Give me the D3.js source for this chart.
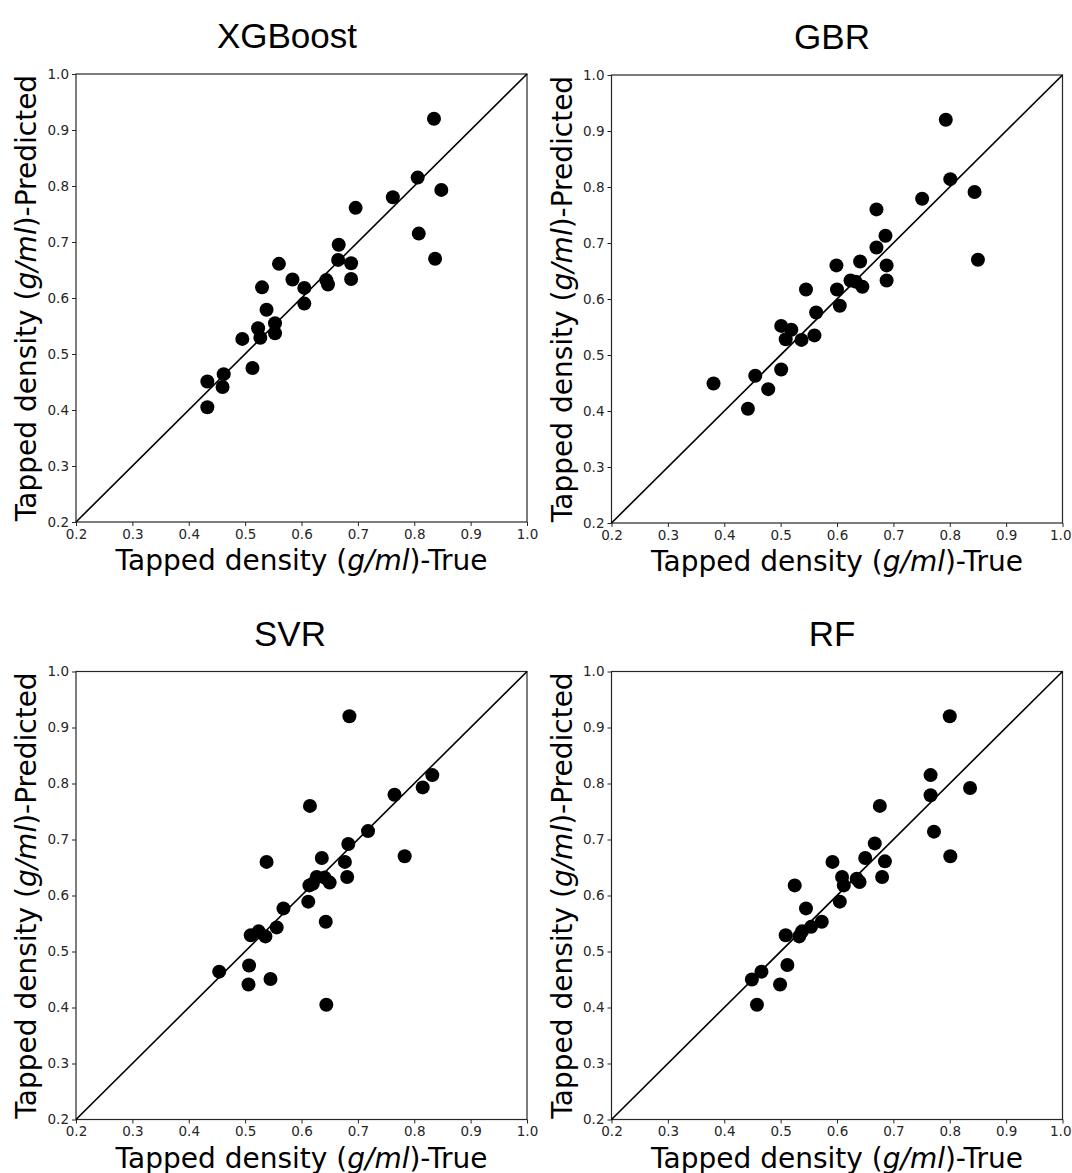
<!DOCTYPE html>
<html>
<head>
<meta charset="utf-8">
<script src="https://cdn.jsdelivr.net/npm/d3@7"></script>
<style>
  html, body { margin: 0; padding: 0; background: #fff; }
  svg { display: block; }
</style>
</head>
<body>
<svg id="chart" width="1072" height="1173"></svg>
<script>
// ---- Data ----
const modelNames = ["XGBoost", "GBR", "SVR", "RF"];
const tickValues = [0.2, 0.3, 0.4, 0.5, 0.6, 0.7, 0.8, 0.9, 1.0];
const axisDomain = [0.2, 1.0];

const xgbX = [0.835, 0.806, 0.848, 0.762, 0.696, 0.808, 0.837, 0.666, 0.665, 0.688, 0.688, 0.644, 0.647, 0.584, 0.605, 0.605, 0.560, 0.530, 0.538, 0.553, 0.553, 0.523, 0.527, 0.495, 0.513, 0.433, 0.462, 0.460, 0.433];
const xgbY = [0.920, 0.815, 0.793, 0.780, 0.761, 0.715, 0.670, 0.695, 0.668, 0.662, 0.634, 0.632, 0.624, 0.633, 0.618, 0.590, 0.661, 0.619, 0.579, 0.555, 0.537, 0.546, 0.529, 0.527, 0.475, 0.451, 0.464, 0.441, 0.405];

const gbrX = [0.793, 0.801, 0.844, 0.751, 0.670, 0.686, 0.670, 0.850, 0.641, 0.688, 0.688, 0.599, 0.624, 0.633, 0.645, 0.600, 0.605, 0.545, 0.563, 0.560, 0.537, 0.501, 0.519, 0.509, 0.501, 0.455, 0.478, 0.381, 0.442];
const gbrY = [0.920, 0.814, 0.791, 0.779, 0.760, 0.713, 0.692, 0.670, 0.667, 0.660, 0.633, 0.660, 0.633, 0.631, 0.622, 0.617, 0.588, 0.617, 0.576, 0.535, 0.527, 0.552, 0.545, 0.528, 0.474, 0.463, 0.439, 0.449, 0.404];

const svrX = [0.685, 0.832, 0.815, 0.765, 0.615, 0.718, 0.783, 0.683, 0.636, 0.677, 0.681, 0.627, 0.641, 0.650, 0.538, 0.614, 0.620, 0.612, 0.568, 0.643, 0.556, 0.524, 0.510, 0.536, 0.507, 0.454, 0.545, 0.506, 0.644];
const svrY = [0.920, 0.815, 0.793, 0.780, 0.760, 0.715, 0.670, 0.692, 0.667, 0.660, 0.633, 0.633, 0.632, 0.623, 0.660, 0.618, 0.621, 0.589, 0.577, 0.553, 0.543, 0.536, 0.529, 0.527, 0.475, 0.464, 0.451, 0.441, 0.405];

const rfX = [0.800, 0.766, 0.836, 0.766, 0.676, 0.772, 0.667, 0.801, 0.650, 0.685, 0.680, 0.592, 0.609, 0.635, 0.640, 0.612, 0.605, 0.525, 0.545, 0.573, 0.554, 0.538, 0.533, 0.509, 0.512, 0.466, 0.449, 0.499, 0.458];
const rfY = [0.920, 0.815, 0.792, 0.779, 0.760, 0.714, 0.693, 0.670, 0.667, 0.661, 0.633, 0.660, 0.633, 0.630, 0.624, 0.618, 0.589, 0.618, 0.577, 0.553, 0.544, 0.536, 0.527, 0.529, 0.476, 0.464, 0.450, 0.441, 0.405];

const seriesX = [xgbX, gbrX, svrX, rfX];
const seriesY = [xgbY, gbrY, svrY, rfY];

// ---- Layout ----
const panels = [
  { left: 76,    top: 74,    w: 451, h: 448, titleX: 287, edge: false },
  { left: 611.5, top: 75,    w: 451, h: 448, titleX: 832, edge: true },
  { left: 76,    top: 671.5, w: 451, h: 448, titleX: 290, edge: false },
  { left: 611.5, top: 671.5, w: 451, h: 448, titleX: 832, edge: true }
];

const svg = d3.select("#chart");
const fmt = d3.format(".1f");

panels.forEach((p, i) => {
  const g = svg.append("g").attr("transform", `translate(${p.left},${p.top})`);
  const x = d3.scaleLinear().domain(axisDomain).range([0, p.w]);
  const y = d3.scaleLinear().domain(axisDomain).range([p.h, 0]);

  // axes
  const xAxis = g.append("g").attr("transform", `translate(0,${p.h})`)
    .call(d3.axisBottom(x).tickValues(tickValues).tickFormat(fmt).tickSizeOuter(0).tickSize(4).tickPadding(3));
  const yAxis = g.append("g")
    .call(d3.axisLeft(y).tickValues(tickValues).tickFormat(fmt).tickSizeOuter(0).tickSize(4).tickPadding(3));
  [xAxis, yAxis].forEach(a => {
    a.selectAll("text").attr("font-family", "DejaVu Sans, sans-serif").attr("font-size", 13.5).attr("fill", "#262626");
    a.selectAll("line").attr("stroke", "#262626").attr("stroke-width", 1);
    a.select(".domain").remove();
  });
  if (p.edge) {
    // keep the last tick label inside the page edge
    xAxis.selectAll(".tick").filter(d => d === 1.0).select("text")
      .attr("text-anchor", "end").attr("x", 1072 - p.left - p.w - 1);
  }

  // frame
  g.append("rect").attr("x", 0).attr("y", 0).attr("width", p.w).attr("height", p.h)
    .attr("fill", "none").attr("stroke", "#262626").attr("stroke-width", 1.2);

  // identity line
  g.append("line")
    .attr("x1", x(axisDomain[0])).attr("y1", y(axisDomain[0]))
    .attr("x2", x(axisDomain[1])).attr("y2", y(axisDomain[1]))
    .attr("stroke", "#000").attr("stroke-width", 1.6);

  // points
  const pts = seriesX[i].map((v, k) => [v, seriesY[i][k]]);
  g.selectAll("circle.pt").data(pts).enter().append("circle")
    .attr("class", "pt")
    .attr("cx", d => x(d[0])).attr("cy", d => y(d[1]))
    .attr("r", 7).attr("fill", "#000");

  // title
  g.append("text").attr("x", p.titleX - p.left).attr("y", -26)
    .attr("text-anchor", "middle")
    .attr("font-family", "Liberation Sans, Arial, sans-serif")
    .attr("font-size", 35).attr("fill", "#000")
    .text(modelNames[i]);

  // x label
  const xl = g.append("text").attr("x", p.w / 2).attr("y", p.h + 48)
    .attr("text-anchor", "middle")
    .attr("font-family", "DejaVu Sans, sans-serif")
    .attr("font-size", 28).attr("fill", "#000");
  xl.append("tspan").text("Tapped density (");
  xl.append("tspan").attr("font-style", "italic").text("g/ml");
  xl.append("tspan").text(")-True");

  // y label
  const yl = g.append("text")
    .attr("transform", `translate(-40,${p.h / 2}) rotate(-90)`)
    .attr("text-anchor", "middle")
    .attr("font-family", "DejaVu Sans, sans-serif")
    .attr("font-size", 28).attr("fill", "#000");
  yl.append("tspan").text("Tapped density (");
  yl.append("tspan").attr("font-style", "italic").text("g/ml");
  yl.append("tspan").text(")-Predicted");
});
</script>
</body>
</html>
